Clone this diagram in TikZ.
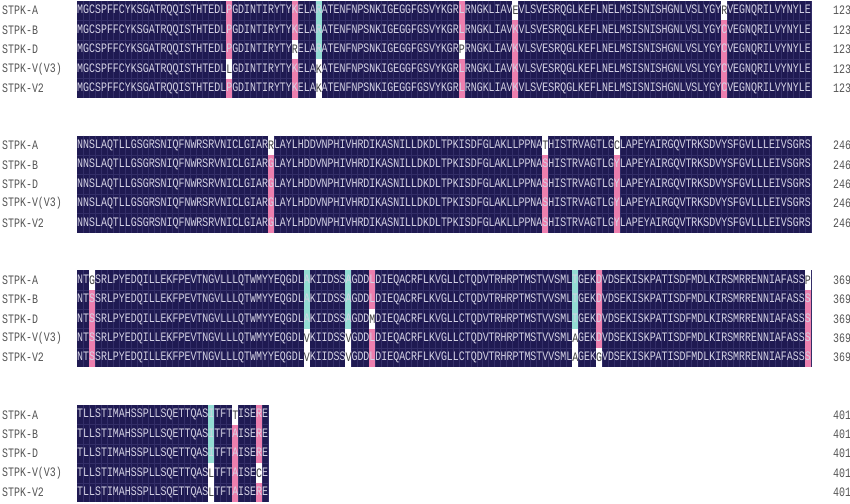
\documentclass[tikz,border=0pt]{standalone}
\usepackage{fontspec}
\newfontfamily\seqfont{Liberation Mono}
\definecolor{navy}{HTML}{1F1A52}
\definecolor{gridc}{HTML}{332E68}
\definecolor{pinkc}{HTML}{EC7FAE}
\definecolor{cyanc}{HTML}{93DCD3}
\definecolor{seqtxt}{HTML}{D4D2E4}
\definecolor{labtxt}{HTML}{555555}
\definecolor{darktxt}{HTML}{444444}
\def\cw{5.965}
\newcommand{\sqf}{\seqfont\fontsize{9.94}{10}\selectfont}
\newcommand{\cellc}[4]{\fill[#4] ({77+(#3-1)*\cw},{#1+1+19.4*#2}) rectangle ++(\cw,19.4);}
\newcommand{\wcell}[4]{\fill[white] ({77+(#3-1)*\cw},{#1+1+19.4*#2}) rectangle ++(\cw,19.4);
  \node[seq,text=darktxt] (w#1x#2x#3) at ({77+(#3-1)*\cw},{#1+10.7+19.4*#2}) {#4};}
\newcommand{\blockbg}[2]{\fill[navy] (77,{#1+1}) rectangle ({77+#2*\cw},{#1+98});
  \foreach \c in {1,...,#2}{\draw[gridc,line width=0.3pt] ({77+\c*\cw},{#1+1}) -- ++(0,97);}
  \foreach \r in {1,...,4}{\draw[gridc,line width=0.3pt] (77,{#1+1+19.4*\r}) -- ++({#2*\cw},0);}}
\newcommand{\srow}[4]{\node[seq] (s#1x#2) at (77,{#1+10.7+19.4*#2}) {#3};
  \node[lab] (l#1x#2) at (2,{#1+10.7+19.4*#2}) {\ifcase#2 STPK-A\or STPK-B\or STPK-D\or STPK-V(V3)\or STPK-V2\fi};
  \node[lab] (n#1x#2) at (833,{#1+10.7+19.4*#2}) {#4};}
\begin{document}
\begin{tikzpicture}[x=1pt,y=-1pt,
  seq/.style={anchor=west,inner sep=0,font=\sqf,text=seqtxt,yscale=1.3,transform shape},
  lab/.style={anchor=west,inner sep=0,font=\sqf,text=labtxt,yscale=1.3,transform shape}]
\useasboundingbox[fill=white] (0,0) rectangle (850,503);
% ---------- block 1
\def\T{0}
\blockbg{\T}{123}
\cellc{\T}{0}{26}{pinkc}\cellc{\T}{1}{26}{pinkc}\cellc{\T}{2}{26}{pinkc}\cellc{\T}{4}{26}{pinkc}
\cellc{\T}{0}{37}{pinkc}\cellc{\T}{1}{37}{pinkc}\cellc{\T}{3}{37}{pinkc}\cellc{\T}{4}{37}{pinkc}
\cellc{\T}{0}{41}{cyanc}\cellc{\T}{1}{41}{cyanc}\cellc{\T}{2}{41}{cyanc}
\cellc{\T}{0}{65}{pinkc}\cellc{\T}{1}{65}{pinkc}\cellc{\T}{3}{65}{pinkc}\cellc{\T}{4}{65}{pinkc}
\foreach \k in {1,...,4}{\cellc{\T}{\k}{74}{pinkc}\cellc{\T}{\k}{109}{pinkc}}
\srow{\T}{0}{MGCSPFFCYKSGATRQQISTHTEDLPGDINTIRYTYKELARATENFNPSNKIGEGGFGSVYKGRLRNGKLIAVEVLSVESRQGLKEFLNELMSISNISHGNLVSLYGYRVEGNQRILVYNYLE}{123}
\srow{\T}{1}{MGCSPFFCYKSGATRQQISTHTEDLPGDINTIRYTYKELARATENFNPSNKIGEGGFGSVYKGRLRNGKLIAVKVLSVESRQGLKEFLNELMSISNISHGNLVSLYGYCVEGNQRILVYNYLE}{123}
\srow{\T}{2}{MGCSPFFCYKSGATRQQISTHTEDLPGDINTIRYTYRELARATENFNPSNKIGEGGFGSVYKGRPRNGKLIAVKVLSVESRQGLKEFLNELMSISNISHGNLVSLYGYCVEGNQRILVYNYLE}{123}
\srow{\T}{3}{MGCSPFFCYKSGATRQQISTHTEDLLGDINTIRYTYKELAKATENFNPSNKIGEGGFGSVYKGRLRNGKLIAVKVLSVESRQGLKEFLNELMSISNISHGNLVSLYGYCVEGNQRILVYNYLE}{123}
\srow{\T}{4}{MGCSPFFCYKSGATRQQISTHTEDLPGDINTIRYTYKELAKATENFNPSNKIGEGGFGSVYKGRLRNGKLIAVKVLSVESRQGLKEFLNELMSISNISHGNLVSLYGYCVEGNQRILVYNYLE}{123}
\wcell{\T}{3}{26}{L}\wcell{\T}{2}{37}{R}\wcell{\T}{3}{41}{K}\wcell{\T}{4}{41}{K}
\wcell{\T}{2}{65}{P}\wcell{\T}{0}{74}{E}\wcell{\T}{0}{109}{R}
% ---------- block 2
\def\T{134.7}
\blockbg{\T}{123}
\foreach \k in {1,...,4}{\cellc{\T}{\k}{33}{pinkc}\cellc{\T}{\k}{79}{pinkc}\cellc{\T}{\k}{91}{pinkc}}
\srow{\T}{0}{NNSLAQTLLGSGRSNIQFNWRSRVNICLGIARRLAYLHDDVNPHIVHRDIKASNILLDKDLTPKISDFGLAKLLPPNATHISTRVAGTLGCLAPEYAIRGQVTRKSDVYSFGVLLLEIVSGRS}{246}
\srow{\T}{1}{NNSLAQTLLGSGRSNIQFNWRSRVNICLGIARGLAYLHDDVNPHIVHRDIKASNILLDKDLTPKISDFGLAKLLPPNASHISTRVAGTLGYLAPEYAIRGQVTRKSDVYSFGVLLLEIVSGRS}{246}
\srow{\T}{2}{NNSLAQTLLGSGRSNIQFNWRSRVNICLGIARGLAYLHDDVNPHIVHRDIKASNILLDKDLTPKISDFGLAKLLPPNASHISTRVAGTLGYLAPEYAIRGQVTRKSDVYSFGVLLLEIVSGRS}{246}
\srow{\T}{3}{NNSLAQTLLGSGRSNIQFNWRSRVNICLGIARGLAYLHDDVNPHIVHRDIKASNILLDKDLTPKISDFGLAKLLPPNASHISTRVAGTLGYLAPEYAIRGQVTRKSDVYSFGVLLLEIVSGRS}{246}
\srow{\T}{4}{NNSLAQTLLGSGRSNIQFNWRSRVNICLGIARGLAYLHDDVNPHIVHRDIKASNILLDKDLTPKISDFGLAKLLPPNASHISTRVAGTLGYLAPEYAIRGQVTRKSDVYSFGVLLLEIVSGRS}{246}
\wcell{\T}{0}{33}{R}\wcell{\T}{0}{79}{T}\wcell{\T}{0}{91}{C}
% ---------- block 3
\def\T{269.4}
\blockbg{\T}{123}
\foreach \k in {1,...,4}{\cellc{\T}{\k}{3}{pinkc}\cellc{\T}{\k}{123}{pinkc}}
\foreach \k in {0,1,2}{\cellc{\T}{\k}{39}{cyanc}\cellc{\T}{\k}{46}{cyanc}\cellc{\T}{\k}{84}{cyanc}}
\foreach \k in {0,1,3,4}{\cellc{\T}{\k}{50}{pinkc}}
\foreach \k in {0,1,2,3}{\cellc{\T}{\k}{88}{pinkc}}
\srow{\T}{0}{NTGSRLPYEDQILLEKFPEVTNGVLLLQTWMYYEQGDLAKIIDSSAGDDLDIEQACRFLKVGLLCTQDVTRHRPTMSTVVSMLTGEKDVDSEKISKPATISDFMDLKIRSMRRENNIAFASSP}{369}
\srow{\T}{1}{NTSSRLPYEDQILLEKFPEVTNGVLLLQTWMYYEQGDLAKIIDSSAGDDLDIEQACRFLKVGLLCTQDVTRHRPTMSTVVSMLTGEKDVDSEKISKPATISDFMDLKIRSMRRENNIAFASSS}{369}
\srow{\T}{2}{NTSSRLPYEDQILLEKFPEVTNGVLLLQTWMYYEQGDLAKIIDSSAGDDMDIEQACRFLKVGLLCTQDVTRHRPTMSTVVSMLTGEKDVDSEKISKPATISDFMDLKIRSMRRENNIAFASSS}{369}
\srow{\T}{3}{NTSSRLPYEDQILLEKFPEVTNGVLLLQTWMYYEQGDLVKIIDSSVGDDLDIEQACRFLKVGLLCTQDVTRHRPTMSTVVSMLAGEKDVDSEKISKPATISDFMDLKIRSMRRENNIAFASSS}{369}
\srow{\T}{4}{NTSSRLPYEDQILLEKFPEVTNGVLLLQTWMYYEQGDLVKIIDSSVGDDLDIEQACRFLKVGLLCTQDVTRHRPTMSTVVSMLAGEKGVDSEKISKPATISDFMDLKIRSMRRENNIAFASSS}{369}
\wcell{\T}{0}{3}{G}\wcell{\T}{0}{123}{P}
\wcell{\T}{3}{39}{V}\wcell{\T}{4}{39}{V}\wcell{\T}{3}{46}{V}\wcell{\T}{4}{46}{V}
\wcell{\T}{2}{50}{M}\wcell{\T}{3}{84}{A}\wcell{\T}{4}{84}{A}\wcell{\T}{4}{88}{G}
% ---------- block 4
\def\T{404.1}
\blockbg{\T}{32}
\foreach \k in {0,1,2}{\cellc{\T}{\k}{23}{cyanc}}
\foreach \k in {1,...,4}{\cellc{\T}{\k}{27}{pinkc}}
\foreach \k in {0,1,2,4}{\cellc{\T}{\k}{31}{pinkc}}
\srow{\T}{0}{TLLSTIMAHSSPLLSQETTQASITFTTISERE}{401}
\srow{\T}{1}{TLLSTIMAHSSPLLSQETTQASITFTAISERE}{401}
\srow{\T}{2}{TLLSTIMAHSSPLLSQETTQASITFTAISERE}{401}
\srow{\T}{3}{TLLSTIMAHSSPLLSQETTQASLTFTAISECE}{401}
\srow{\T}{4}{TLLSTIMAHSSPLLSQETTQASLTFTAISERE}{401}
\wcell{\T}{3}{23}{L}\wcell{\T}{4}{23}{L}\wcell{\T}{0}{27}{T}\wcell{\T}{3}{31}{C}
\end{tikzpicture}
\end{document}
